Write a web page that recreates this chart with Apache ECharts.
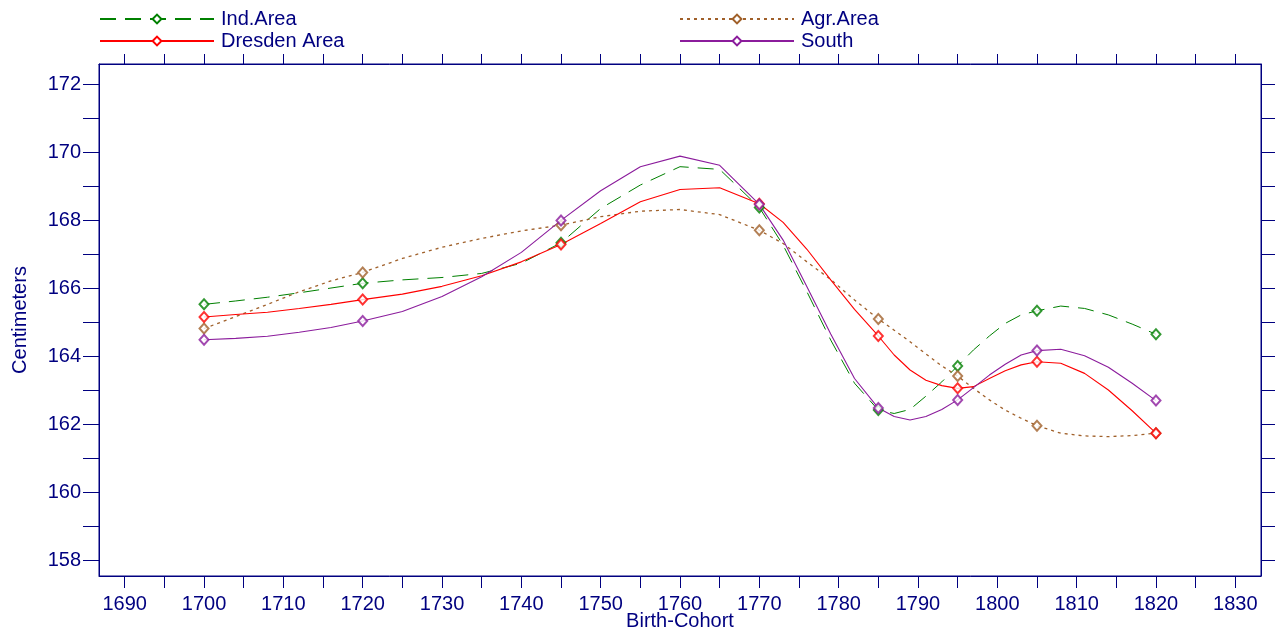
<!DOCTYPE html>
<html>
<head>
<meta charset="utf-8">
<script src="https://cdn.jsdelivr.net/npm/echarts@6/dist/echarts.min.js"></script>
<style>
  html, body { margin: 0; padding: 0; background: #fff; }
  #chart { width: 1275px; height: 635px; }
</style>
</head>
<body>
<div id="chart"></div>
<script>
// Birth cohorts with observed mean heights (cm)
const cohorts = [1700, 1720, 1745, 1770, 1785, 1795, 1805, 1820];
const indArea = [165.52, 166.14, 167.33, 168.37, 162.41, 163.71, 165.33, 164.64];
const agrArea = [164.81, 166.46, 167.85, 167.70, 165.09, 163.41, 161.95, 161.73];
const dresdenArea = [165.15, 165.66, 167.28, 168.48, 164.59, 163.05, 163.83, 161.73];
const south = [164.48, 165.03, 167.99, 168.46, 162.47, 162.71, 164.16, 162.69];

// Smoothed trend curves, sampled along the cohort axis
const curveYears = [1700, 1704, 1708, 1712, 1716, 1720, 1725, 1730, 1735, 1740, 1745,
  1750, 1755, 1760, 1765, 1770, 1773, 1776, 1779, 1782, 1785, 1787, 1789, 1791, 1793,
  1795, 1797, 1799, 1801, 1803, 1805, 1808, 1811, 1814, 1817, 1820];
const indCurve = [165.52, 165.62, 165.73, 165.86, 166.00, 166.14, 166.24, 166.31, 166.43, 166.73, 167.33,
  168.34, 169.03, 169.57, 169.49, 168.37, 167.26, 165.89, 164.47, 163.20, 162.41, 162.31, 162.43, 162.82, 163.24,
  163.71, 164.18, 164.59, 164.96, 165.21, 165.33, 165.47, 165.40, 165.21, 164.94, 164.64];
const agrCurve = [164.81, 165.16, 165.52, 165.89, 166.21, 166.46, 166.87, 167.20, 167.46, 167.68, 167.85,
  168.10, 168.26, 168.31, 168.16, 167.70, 167.31, 166.77, 166.25, 165.65, 165.09, 164.76, 164.42, 164.06, 163.71,
  163.41, 163.05, 162.71, 162.41, 162.17, 161.95, 161.73, 161.65, 161.63, 161.66, 161.73];
const dresdenCurve = [165.15, 165.22, 165.29, 165.40, 165.52, 165.66, 165.82, 166.05, 166.36, 166.77, 167.28,
  167.90, 168.54, 168.90, 168.95, 168.48, 167.93, 167.14, 166.24, 165.37, 164.59, 164.03, 163.59, 163.29, 163.13,
  163.05, 163.10, 163.34, 163.57, 163.74, 163.83, 163.79, 163.49, 163.00, 162.39, 161.73];
const southCurve = [164.48, 164.52, 164.58, 164.70, 164.84, 165.03, 165.31, 165.75, 166.33, 167.05, 167.99,
  168.86, 169.57, 169.88, 169.61, 168.46, 167.41, 166.04, 164.65, 163.34, 162.47, 162.22, 162.12, 162.22, 162.43,
  162.71, 163.07, 163.44, 163.76, 164.03, 164.16, 164.20, 164.01, 163.67, 163.20, 162.69];

// Axis ticks and labels
const xLabels = [1690, 1700, 1710, 1720, 1730, 1740, 1750, 1760, 1770, 1780, 1790, 1800, 1810, 1820, 1830];
const xTicks = [1690, 1695, 1700, 1705, 1710, 1715, 1720, 1725, 1730, 1735, 1740, 1745, 1750, 1755, 1760,
  1765, 1770, 1775, 1780, 1785, 1790, 1795, 1800, 1805, 1810, 1815, 1820, 1825, 1830];
const yLabels = [158, 160, 162, 164, 166, 168, 170, 172];
const yTicks = [158, 159, 160, 161, 162, 163, 164, 165, 166, 167, 168, 169, 170, 171, 172];

const NAVY = '#000080';
const FONT = 'Liberation Sans, Arial, sans-serif';

const groups = [
  { name: 'Ind.Area', obs: indArea, curve: indCurve, color: '#008000', dash: [16, 9], width: 1 },
  { name: 'Agr.Area', obs: agrArea, curve: agrCurve, color: '#a0602a', dash: [3, 4], width: 1.3 },
  { name: 'Dresden Area', obs: dresdenArea, curve: dresdenCurve, color: '#ff0000', dash: 'solid', width: 1.1 },
  { name: 'South', obs: south, curve: southCurve, color: '#8b1c9c', dash: 'solid', width: 1.1 }
];

const series = [];
groups.forEach(g => {
  series.push({
    name: g.name,
    type: 'line',
    data: curveYears.map((yr, i) => [yr, g.curve[i]]),
    symbol: 'emptyDiamond',
    showSymbol: false,
    lineStyle: { color: g.color, type: g.dash, width: g.width },
    itemStyle: { color: g.color },
    silent: true,
    z: 2
  });
});
groups.forEach(g => {
  series.push({
    name: g.name,
    type: 'scatter',
    data: cohorts.map((yr, i) => [yr, g.obs[i]]),
    symbol: 'emptyDiamond',
    symbolSize: [9, 10],
    itemStyle: { color: g.color, borderColor: g.color, borderWidth: 1 },
    silent: true,
    z: 3
  });
});

const legendBase = {
  itemWidth: 114,
  itemHeight: 11,
  itemGap: 7,
  padding: 0,
  selectedMode: false,
  textStyle: { color: NAVY, fontSize: 20, fontFamily: FONT, padding: [0, 0, 0, 2] }
};

const xRange = { min: 1686.76, max: 1833.24 };
const yRange = { min: 157.53, max: 172.59 };
const plain = v => String(v);

const option = {
  animation: false,
  backgroundColor: '#ffffff',
  grid: {
    left: 99, right: 14, top: 64, bottom: 59,
    outerBoundsMode: 'none',
    containLabel: false,
    show: true, borderColor: NAVY, borderWidth: 1, backgroundColor: 'transparent'
  },
  legend: [
    Object.assign({ data: ['Ind.Area'], left: 99, top: 9 }, legendBase),
    Object.assign({ data: ['Dresden Area'], left: 99, top: 31 }, legendBase),
    Object.assign({ data: ['Agr.Area'], left: 679, top: 9 }, legendBase),
    Object.assign({ data: ['South'], left: 679, top: 31 }, legendBase)
  ],
  xAxis: [
    Object.assign({
      type: 'value',
      position: 'bottom',
      name: 'Birth-Cohort',
      nameLocation: 'middle',
      nameGap: 35,
      nameMoveOverlap: false,
      nameTextStyle: { color: NAVY, fontSize: 20, fontFamily: FONT },
      axisLine: { show: true, lineStyle: { color: NAVY, width: 1 } },
      axisTick: { show: true, length: 12, customValues: xTicks, lineStyle: { color: NAVY } },
      axisLabel: { customValues: xLabels, formatter: plain, margin: 18, color: NAVY, fontSize: 20, fontFamily: FONT },
      splitLine: { show: false }
    }, xRange),
    Object.assign({
      type: 'value',
      position: 'top',
      axisLine: { show: true, lineStyle: { color: NAVY, width: 1 } },
      axisTick: { show: true, length: 10, customValues: xTicks, lineStyle: { color: NAVY } },
      axisLabel: { show: false },
      splitLine: { show: false }
    }, xRange)
  ],
  yAxis: [
    Object.assign({
      type: 'value',
      position: 'left',
      name: 'Centimeters',
      nameLocation: 'middle',
      nameGap: 69,
      nameTextStyle: { color: NAVY, fontSize: 20, fontFamily: FONT },
      axisLine: { show: true, lineStyle: { color: NAVY, width: 1 } },
      axisTick: { show: true, length: 16, customValues: yTicks, lineStyle: { color: NAVY } },
      axisLabel: { customValues: yLabels, formatter: plain, margin: 18, color: NAVY, fontSize: 20, fontFamily: FONT },
      splitLine: { show: false }
    }, yRange),
    Object.assign({
      type: 'value',
      position: 'right',
      axisLine: { show: true, lineStyle: { color: NAVY, width: 1 } },
      axisTick: { show: true, length: 14, customValues: yTicks, lineStyle: { color: NAVY } },
      axisLabel: { show: false },
      splitLine: { show: false }
    }, yRange)
  ],
  series: series
};

const chart = echarts.init(document.getElementById('chart'), null, { renderer: 'canvas' });
chart.setOption(option);
</script>
</body>
</html>
